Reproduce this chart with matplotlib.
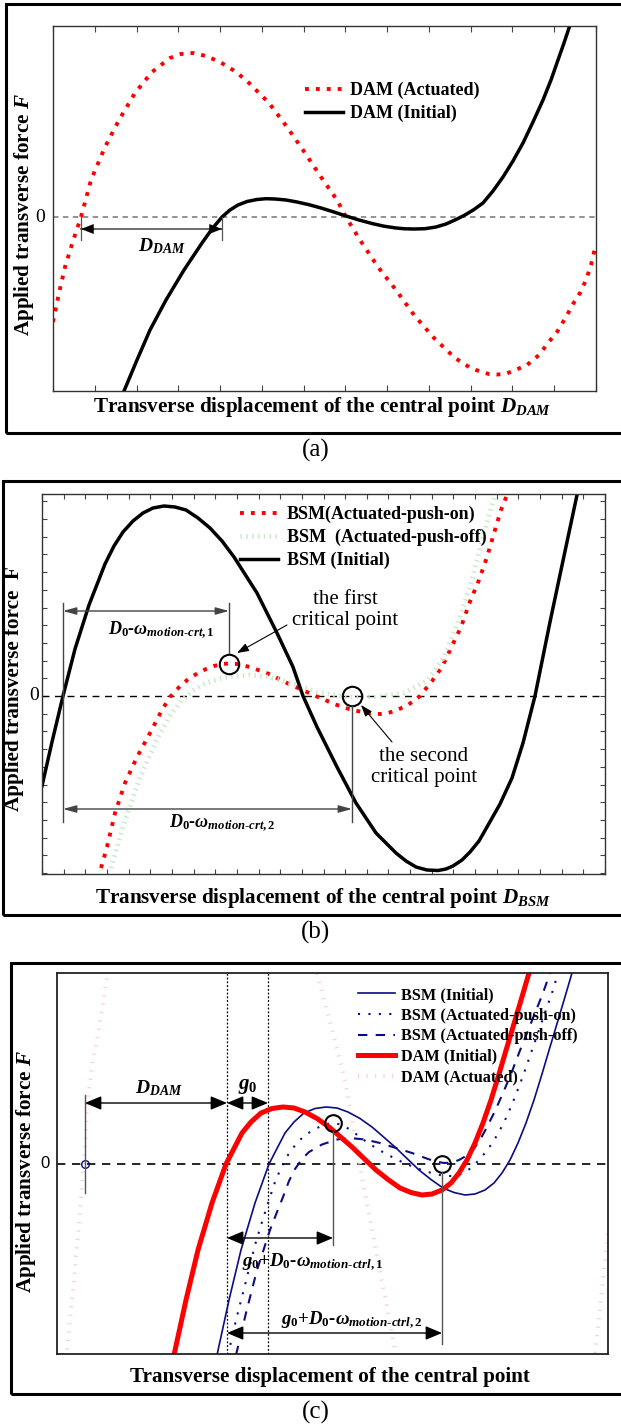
import numpy as np
import matplotlib
matplotlib.use("Agg")
import matplotlib.pyplot as plt
from matplotlib.patches import Rectangle
from matplotlib.ticker import MultipleLocator, NullLocator

plt.rcParams['font.family'] = ['Liberation Serif', 'DejaVu Serif']
plt.rcParams['mathtext.fontset'] = 'custom'
plt.rcParams['mathtext.rm'] = 'Liberation Serif:bold'
plt.rcParams['mathtext.it'] = 'Liberation Serif:italic:bold'
plt.rcParams['mathtext.bf'] = 'Liberation Serif:bold'

# ---------------- data: panel (a) ----------------
a_x_dam_actuated = [0, 6, 12, 20, 28, 38, 52, 66, 82, 99, 117, 128, 140, 153, 167, 180, 193, 216, 234, 250, 268,
                    284, 293, 307, 325, 343, 361, 381, 402, 416, 428, 436, 444, 452, 460, 474, 486, 495, 504,
                    513, 520, 527, 533, 538, 542]
a_F_dam_actuated = [-105, -76, -50, -24, 0, 37, 70, 97, 124, 145, 159, 163, 164, 161, 155, 147, 137, 114, 90, 67,
                    40, 17, 0, -23, -50, -73, -98, -121, -141, -150, -155, -157, -157.5, -157, -154, -148, -138,
                    -126, -115, -100, -87, -76, -63, -48, -31]
a_x_dam_initial = [71, 84, 97, 113, 131, 149, 159, 169, 177, 185, 194, 204, 213, 222, 233, 244, 256, 268, 280,
                   293, 306, 319, 331, 343, 352, 361, 372, 383, 393, 402, 412, 421, 430, 440, 450, 460, 470, 480,
                   490, 498, 505, 511, 517]
a_F_dam_initial = [-174, -143, -113, -83, -53, -26, -12, 0, 7, 12, 15.5, 17.5, 18.3, 18, 17, 15, 12.3, 9, 5.3,
                   1, -3, -6.5, -9.2, -11, -11.8, -12, -11.7, -10, -7, -3, 2, 7.5, 14, 26, 40, 56, 74, 95,
                   117, 137, 157, 174, 192]
a_d_dam = (28, 169)

# ---------------- data: panel (b) ----------------
b_x_initial = [0, 10, 21, 33, 47, 63, 72, 81, 91, 101, 111, 122, 133, 144, 156, 168, 180, 192, 215, 235, 251,
               261, 275, 295, 314, 334, 354, 364, 374, 385, 396, 404, 411, 420, 428, 437, 445, 458, 470, 481,
               493, 508, 522, 535]
b_F_initial = [-90, -46, 0, 47, 91, 132, 150, 164, 175, 183, 188, 190, 189, 186, 178, 168, 155, 139, 103, 63, 29,
               0, -31, -71, -107, -137, -157, -165, -171, -174, -174.5, -173, -170, -164, -156, -145, -131,
               -108, -82, -47, 0, 74, 140, 201]
b_x_push_on = [59, 65, 73, 83, 95, 107, 120, 128, 140, 148, 156, 164, 172, 180, 187, 195, 208, 227, 247, 267,
               283, 295, 310, 326, 333, 338, 346, 354, 366, 378, 390, 400, 409, 419, 427, 437, 445, 453, 459, 465]
b_F_push_on = [-172, -151, -117, -87, -61, -39, -14, -1, 12, 18, 23, 27, 30, 32, 32.5, 32, 29, 22, 12, 3, -4,
               -9, -14, -17, -17.8, -18, -17, -14.5, -9, 0, 15, 29, 48, 69, 92, 116, 139, 166, 186, 201]
b_x_push_off = [69, 81, 97, 116, 128, 140, 152, 164, 176, 188, 208, 227, 251, 275, 303, 334, 362, 386, 402, 417,
                429, 441, 453]
b_F_push_off = [-172, -131, -84, -41, -20, -4, 6, 13, 17, 19.5, 21, 19, 12, 4, -1, -1, 3, 16, 39, 76, 113, 159,
                201]
b_crit_x = [187, 310]
b_crit_F = [32, 0]

# ---------------- data: panel (c) ----------------
c_x_dam_initial = [117, 129, 141, 155, 169, 185, 194, 204, 215, 226, 237, 248, 260, 272, 283, 295, 307, 319, 331,
                   343, 354, 365, 375, 385, 394, 402, 410, 418, 426, 434, 442, 450, 456, 462, 467, 472]
c_F_dam_initial = [-191, -136, -86, -39, 0, 31, 42, 51, 55.5, 57, 56, 52, 45.5, 37, 27.5, 17, 5.5, -6, -15.5,
                   -24, -28.5, -31, -30, -26, -19, -9, 4, 21, 41, 64, 90, 117, 137, 157, 174, 191]
c_x_bsm_initial = [160, 172, 184, 198, 212, 228, 237, 247, 258, 269, 280, 291, 303, 315, 326, 338, 350, 362, 374,
                   386, 397, 408, 418, 428, 437, 445, 453, 461, 469, 477, 485, 493, 499, 505, 510, 515]
c_F_bsm_initial = [-191, -136, -86, -39, 0, 31, 42, 51, 55.5, 57, 56, 52, 45.5, 37, 27.5, 17, 5.5, -6, -15.5,
                   -24, -28.5, -31, -30, -26, -19, -9, 4, 21, 41, 64, 90, 117, 137, 157, 174, 191]
c_x_bsm_push_on = [171, 179, 188, 198, 205, 212, 218, 224, 231, 239, 248, 260, 268, 276, 284, 292, 301, 311, 323,
                   335, 347, 359, 371, 383, 391, 398, 406, 414, 421, 428, 435, 442, 450, 458, 466, 474, 482, 490,
                   496, 501]
c_F_bsm_push_on = [-191, -156, -121, -81, -58, -36, -18, -4, 9, 20, 29, 36, 39.5, 41, 39.5, 35, 28.5, 21, 13.5,
                   7, 1, -4, -8, -11, -12, -12, -9.5, -4, 3, 11, 20.5, 32, 48, 67, 88, 111, 134, 157, 174, 191]
c_x_bsm_push_off = [179, 189, 200, 213, 220, 226, 232, 238, 245, 252, 265, 280, 293, 308, 323, 339, 355, 371, 379,
                    387, 395, 402, 409, 416, 423, 430, 438, 446, 454, 462, 470, 478, 486, 493]
c_F_bsm_push_off = [-191, -149, -106, -66, -48, -33, -17, -5, 5, 12, 19.5, 24.5, 26, 24.5, 21, 16, 11, 5, 2.5,
                    1, 1.5, 4, 8, 14, 24, 37, 53, 71, 90, 111, 131, 151, 171, 191]
c_x_dam_actuated = [5, 10, 17, 22, 27, 30, 35, 40, 45, 50, 58, 75, 103, 153, 203, 243, 260, 275, 288,
                    306, 318, 330, 339, 363, 423, 483, 523, 538, 546, 555]
c_F_dam_actuated = [-236, -186, -116, -59, 0, 54, 100, 124, 154, 188, 234, 320, 424, 464, 404, 264, 191,
                    134, 84, -19, -81, -143, -191, -286, -396, -366, -256, -191, -116, -36]
c_zero_dam = 28
c_zero_dam_init = 170
c_zero_bsm_init = 211
c_crit_x = [276, 385]
c_crit_F = [41, 0]

W, H = 621, 1426
fig = plt.figure(figsize=(W / 100, H / 100), dpi=100)


def rect(l, t, r, b):
    return [l / W, 1 - b / H, (r - l) / W, (b - t) / H]


def border(l, t, b):
    fig.add_artist(Rectangle((l / W, 1 - b / H), (640 - l) / W, (b - t) / H, transform=fig.transFigure,
                             fill=False, lw=2.2, ec='black'))


NAVY = '#0c0c84'

# ================= panel (a) =================
border(6, 4, 433)
ax = fig.add_axes(rect(53, 26, 596, 391))
ax.set_xlim(0, 543)
ax.set_ylim(-174, 191)
ax.axhline(0, color='#8a8a8a', lw=1.3, ls=(0, (3, 2.5)))
ax.plot(a_x_dam_actuated, a_F_dam_actuated, color='#ff0000', lw=2.8, ls=(0, (1, 1.8)),
        dash_capstyle='butt', label='DAM (Actuated)')
ax.plot(a_x_dam_initial, a_F_dam_initial, color='black', lw=2.5, label='DAM (Initial)')
for xv in a_d_dam:
    ax.plot([xv, xv], [0, -23], color='#555555', lw=0.9)
ax.plot(list(a_d_dam), [-12, -12], color='#555555', lw=1.2)
ax.annotate('', xy=(a_d_dam[0], -12), xytext=(a_d_dam[0] + 15, -12),
            arrowprops=dict(arrowstyle='-|>,head_length=0.9,head_width=0.35', color='black',
                            lw=0.1, shrinkA=0, shrinkB=0, mutation_scale=10))
ax.annotate('', xy=(a_d_dam[1], -12), xytext=(a_d_dam[1] - 15, -12),
            arrowprops=dict(arrowstyle='-|>,head_length=0.9,head_width=0.35', color='black',
                            lw=0.1, shrinkA=0, shrinkB=0, mutation_scale=10))
ax.text(109, -29, r'$D_{DAM}$', fontsize=14, ha='center', va='center')
ax.xaxis.set_major_locator(MultipleLocator(543 / 13))
ax.yaxis.set_major_locator(NullLocator())
ax.tick_params(axis='x', direction='in', top=True, bottom=True, length=4, labelbottom=False, color='#444444')
for s in ax.spines.values():
    s.set_linewidth(1.0)
    s.set_color('#333333')
ax.text(-0.024, 0, '0', transform=ax.get_yaxis_transform(), fontsize=14, ha='center', va='center')
ax.text(0.496, -0.044, r'Transverse displacement of the central point $D_{DAM}$', transform=ax.transAxes,
        fontsize=15.2, fontweight='bold', ha='center', va='center')
ax.text(-0.053, 0.482, r'Applied transverse force $F$', transform=ax.transAxes, rotation=90,
        fontsize=15.2, fontweight='bold', ha='center', va='center')
ax.legend(loc='upper left', bbox_to_anchor=(0.464, 0.847), frameon=False, borderpad=0, borderaxespad=0,
          handlelength=2.1, handletextpad=0.4, labelspacing=0.3,
          prop={'family': 'Liberation Serif', 'weight': 'bold', 'size': 13})
fig.text(316 / W, 1 - 450 / H, '(a)', fontsize=18, ha='center', va='center')

# ================= panel (b) =================
border(3, 481, 915)
ax = fig.add_axes(rect(42, 494, 605, 874))
ax.set_xlim(0, 563)
ax.set_ylim(-178, 202)
ax.axhline(0, color='black', lw=1.0, ls=(0, (5, 4)))
ax.plot(b_x_push_on, b_F_push_on, color='#ff0000', lw=2.8, ls=(0, (1, 1.8)),
        dash_capstyle='butt', label='BSM(Actuated-push-on)')
ax.plot(b_x_push_off, b_F_push_off, color='#cde8cd', lw=3.5, ls=(0, (0.3, 0.9)),
        dash_capstyle='butt', label='BSM  (Actuated-push-off)')
ax.plot(b_x_initial, b_F_initial, color='black', lw=2.5, label='BSM (Initial)')
ax.plot(b_crit_x, b_crit_F, 'o', ms=14, mfc='none', mec='black', mew=1.5)
g = '#444444'
ax.plot([21, 21], [93, -126], color=g, lw=1.0)
ax.plot([187, 187], [93, 43], color=g, lw=1.0)
ax.plot([310, 310], [-10, -126], color=g, lw=1.0)
for y0, x1 in [(85, 187), (-113, 310)]:
    ax.annotate('', xy=(x1, y0), xytext=(21, y0),
                arrowprops=dict(arrowstyle='<|-|>,head_length=0.8,head_width=0.22', color=g,
                                lw=1.0, shrinkA=0, shrinkB=0, mutation_scale=10))
ax.text(119, 66, r'$D_0\text{-}\omega_{motion\text{-}crt,1}$', fontsize=13, ha='center', va='center')
ax.text(180, -127, r'$D_0\text{-}\omega_{motion\text{-}crt,2}$', fontsize=13, ha='center', va='center')
ax.text(303, 86, 'the first\ncritical point', fontsize=15, ha='center', va='center', linespacing=1.1)
ax.text(382, -71, 'the second\ncritical point', fontsize=15, ha='center', va='center', linespacing=1.1)
ax.annotate('', xy=(195, 43), xytext=(245, 71),
            arrowprops=dict(arrowstyle='-|>,head_length=0.7,head_width=0.25', color='black', lw=0.8,
                            shrinkA=0, shrinkB=0, mutation_scale=10))
ax.annotate('', xy=(319, -9), xytext=(350, -46),
            arrowprops=dict(arrowstyle='-|>,head_length=0.7,head_width=0.25', color='black', lw=0.8,
                            shrinkA=0, shrinkB=0, mutation_scale=10))
ax.xaxis.set_major_locator(MultipleLocator(563 / 26))
ax.yaxis.set_major_locator(MultipleLocator(17.7))
ax.tick_params(direction='in', top=True, bottom=True, left=True, right=True, length=3.5,
               labelbottom=False, labelleft=False, color='#444444')
for s in ax.spines.values():
    s.set_linewidth(1.0)
    s.set_color('#333333')
ax.text(-0.014, 0, '0', transform=ax.get_yaxis_transform(), fontsize=14, ha='center', va='center')
ax.text(0.5, -0.063, r'Transverse displacement of the central point $D_{BSM}$', transform=ax.transAxes,
        fontsize=15.2, fontweight='bold', ha='center', va='center')
ax.text(-0.05, 0.487, 'Applied transverse force  F', transform=ax.transAxes, rotation=90,
        fontsize=15.2, fontweight='bold', ha='center', va='center')
ax.legend(loc='upper left', bbox_to_anchor=(0.352, 0.968), frameon=False, borderpad=0, borderaxespad=0,
          handlelength=2.1, handletextpad=0.5, labelspacing=0.3,
          prop={'family': 'Liberation Serif', 'weight': 'bold', 'size': 13})
fig.text(316 / W, 1 - 932 / H, '(b)', fontsize=18, ha='center', va='center')

# ================= panel (c) =================
border(11, 963, 1394)
ax = fig.add_axes(rect(57, 973, 608, 1354))
ax.set_xlim(0, 551)
ax.set_ylim(-190, 191)
ax.axhline(0, color='black', lw=1.2, ls=(0, (5, 4)))
for xv in (c_zero_dam_init, c_zero_bsm_init):
    ax.axvline(xv, color='black', lw=0.9, ls=(0, (1.5, 1.5)))
l_da, = ax.plot(c_x_dam_actuated, c_F_dam_actuated, color='#fad2d2', lw=2.9, ls=(0, (0.3, 1.8)),
                dash_capstyle='butt', label='DAM (Actuated)')
l_bi, = ax.plot(c_x_bsm_initial, c_F_bsm_initial, color=NAVY, lw=1.2, label='BSM (Initial)')
l_bon, = ax.plot(c_x_bsm_push_on, c_F_bsm_push_on, color=NAVY, lw=1.5, ls=(0, (1, 4)),
                 label='BSM (Actuated-push-on)')
l_boff, = ax.plot(c_x_bsm_push_off, c_F_bsm_push_off, color=NAVY, lw=1.5, ls=(0, (4.5, 4)),
                  label='BSM (Actuated-push-off)')
l_di, = ax.plot(c_x_dam_initial, c_F_dam_initial, color='#ff0000', lw=3.6, label='DAM (Initial)')
ax.plot(c_crit_x, c_crit_F, 'o', ms=12, mfc='none', mec='black', mew=1.5)
ax.plot([c_zero_dam], [0], 'o', ms=5.5, mfc='none', mec=NAVY, mew=1.0)
ax.plot([c_zero_dam, c_zero_dam], [69, -29], color='#555555', lw=1.0)
ax.plot([276, 276], [33, -81], color='#555555', lw=1.0)
ax.plot([385, 385], [-8, -180], color='#555555', lw=1.0)
ast = '<|-|>,head_length=1.0,head_width=0.42'
for x0, x1, y0 in [(c_zero_dam, c_zero_dam_init, 61), (c_zero_dam_init, c_zero_bsm_init, 61),
                   (c_zero_dam_init, 276, -74), (c_zero_dam_init, 385, -169)]:
    ax.annotate('', xy=(x1, y0), xytext=(x0, y0),
                arrowprops=dict(arrowstyle=ast, color='black', lw=1.0, shrinkA=0, shrinkB=0,
                                mutation_scale=10))
ax.text(102, 76, r'$D_{DAM}$', fontsize=14, ha='center', va='center')
ax.text(191, 78, r'$g_0$', fontsize=15, ha='center', va='center')
ax.text(256, -98, r'$g_0\text{+}D_0\text{-}\omega_{motion\text{-}ctrl,1}$', fontsize=13.5, ha='center', va='center')
ax.text(295, -156, r'$g_0\text{+}D_0\text{-}\omega_{motion\text{-}ctrl,2}$', fontsize=13.5, ha='center', va='center')
ax.xaxis.set_major_locator(NullLocator())
ax.yaxis.set_major_locator(NullLocator())
for s in ax.spines.values():
    s.set_linewidth(1.3)
    s.set_color('#222222')
ax.text(-0.022, 0, '0', transform=ax.get_yaxis_transform(), fontsize=12, ha='center', va='center',
        family='Liberation Sans')
ax.text(0.495, -0.06, 'Transverse displacement of the central point', transform=ax.transAxes,
        fontsize=15.2, fontweight='bold', ha='center', va='center')
ax.text(-0.056, 0.478, r'Applied transverse force $F$', transform=ax.transAxes, rotation=90,
        fontsize=15.2, fontweight='bold', ha='center', va='center')
ax.legend(handles=[l_bi, l_bon, l_boff, l_di, l_da], loc='upper left', bbox_to_anchor=(0.546, 0.963),
          frameon=False, borderpad=0, borderaxespad=0, handlelength=2.3, handletextpad=0.35,
          labelspacing=0.28, prop={'family': 'Liberation Serif', 'weight': 'bold', 'size': 11.7})
fig.text(316 / W, 1 - 1412 / H, '(c)', fontsize=18, ha='center', va='center')

fig.savefig('out.png', dpi=100)
